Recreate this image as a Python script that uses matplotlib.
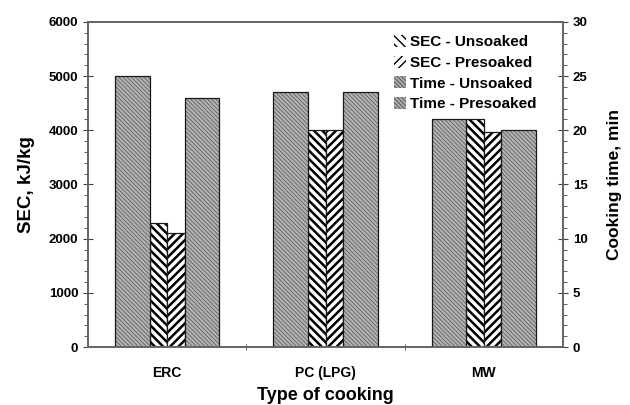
import matplotlib
matplotlib.use('Agg')
import matplotlib.pyplot as plt
import numpy as np
from matplotlib.ticker import MultipleLocator, FixedLocator

plt.rcParams['font.family'] = 'Liberation Sans'
plt.rcParams['font.weight'] = 'bold'

# data
cooking = ['ERC', 'PC (LPG)', 'MW']
sec_unsoaked = [2280, 4000, 4200]     # kJ/kg
sec_presoaked = [2100, 4000, 3970]    # kJ/kg
time_unsoaked = [25, 23.5, 21]        # min
time_presoaked = [23, 23.5, 20]       # min

x = np.arange(len(cooking))
wide = 0.22
narrow = 0.11

fig = plt.figure(figsize=(6.3, 4.05), dpi=100)
ax = fig.add_axes([0.1397, 0.1432, 0.754, 0.8025])
ax2 = ax.twinx()


def hatched_bar(axis, pos, vals, w, fill, hatch_col, hatch, hlw, label):
    # hatched body, then a dark outline on top
    bars = axis.bar(pos, vals, w, color=fill, edgecolor=hatch_col,
                    linewidth=0, hatch=hatch, label=label)
    for p in bars:
        if hasattr(p, 'set_hatch_linewidth'):
            p.set_hatch_linewidth(hlw)
    axis.bar(pos, vals, w, fill=False, edgecolor='#1a1a1a', linewidth=0.9)
    return bars


gray = '#b4b4b4'
b1 = hatched_bar(ax2, x - narrow - wide / 2, time_unsoaked, wide, gray, '#6a6a6a',
                 '\\\\\\\\\\\\\\\\', 0.7, 'Time - Unsoaked')
b2 = hatched_bar(ax, x - narrow / 2, sec_unsoaked, narrow, 'white', 'black',
                 '\\\\\\\\', 1.8, 'SEC - Unsoaked')
b3 = hatched_bar(ax, x + narrow / 2, sec_presoaked, narrow, 'white', 'black',
                 '////', 1.8, 'SEC - Presoaked')
b4 = hatched_bar(ax2, x + narrow + wide / 2, time_presoaked, wide, gray, '#6a6a6a',
                 '\\\\\\\\\\\\\\\\', 0.7, 'Time - Presoaked')

ax.set_xlim(-0.5, 2.5)
ax.set_ylim(0, 6000)
ax2.set_ylim(0, 30)

ax.yaxis.set_major_locator(MultipleLocator(1000))
ax.yaxis.set_minor_locator(MultipleLocator(200))
ax2.yaxis.set_major_locator(MultipleLocator(5))
ax2.yaxis.set_minor_locator(MultipleLocator(1))

ax.set_xticks(x)
ax.set_xticklabels(cooking)
ax.xaxis.set_minor_locator(FixedLocator([0.5, 1.5]))
ax.tick_params(axis='x', which='major', length=0, labelsize=10, pad=14)
ax.tick_params(axis='x', which='minor', length=4, direction='inout', color='#444444')
ax.tick_params(axis='y', which='major', length=7, direction='inout', labelsize=9.5, color='#444444')
ax.tick_params(axis='y', which='minor', length=3, direction='out', color='#444444')
ax2.tick_params(axis='y', which='major', length=7, direction='inout', labelsize=9.5, color='#444444')
ax2.tick_params(axis='y', which='minor', length=3, direction='out', color='#444444')

for a in (ax, ax2):
    for s in a.spines.values():
        s.set_color('#666666')
        s.set_linewidth(1.3)

ax.set_xlabel('Type of cooking', fontsize=13, fontweight='bold', labelpad=5)
ax.set_ylabel('SEC, kJ/kg', fontsize=13.5, fontweight='bold', labelpad=10)
ax2.set_ylabel('Cooking time, min', fontsize=12.5, fontweight='bold', labelpad=14)

ax2.legend(handles=[b2, b3, b1, b4], loc='upper right', frameon=False,
           bbox_to_anchor=(0.958, 0.978), borderaxespad=0,
           handlelength=0.8, handleheight=0.8, handletextpad=0.3,
           labelspacing=0.42, prop={'weight': 'bold', 'size': 11})

fig.savefig('out.png', dpi=100)
